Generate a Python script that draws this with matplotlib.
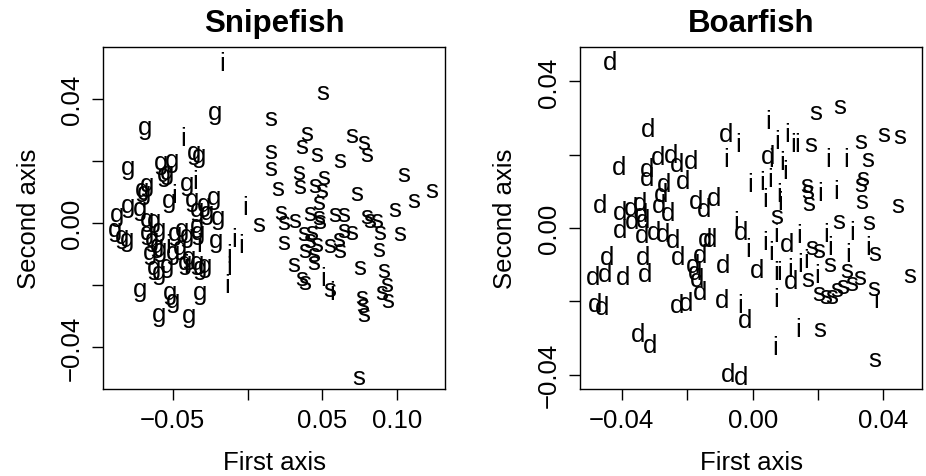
import matplotlib
matplotlib.use('Agg')
import matplotlib.pyplot as plt
from matplotlib.transforms import ScaledTranslation

plt.rcParams['font.family'] = ['Liberation Sans', 'DejaVu Sans']

# ---------------- data ----------------
# Snipefish panel
snipe_s_x = [0.0504, 0.0156, 0.0397, 0.0363, 0.0463, 0.0697, 0.0775, 0.0798, 0.0619, 0.0156,
             0.0156, 0.0341, 0.0352, 0.0201, 0.0452, 0.0508, 0.0497, 0.0475, 0.0731, 0.1043,
             0.1232, 0.1110, 0.0987, 0.0074, 0.0223, 0.0241, 0.0319, 0.0419, 0.0475, 0.0486,
             0.0586, 0.0642, 0.0798, 0.0820, 0.0865, 0.0882, 0.1020, 0.0241, 0.0374, 0.0430,
             0.0419, 0.0463, 0.0385, 0.0441, 0.0441, 0.0553, 0.0608, 0.0619, 0.0642, 0.0697,
             0.0876, 0.0307, 0.0363, 0.0385, 0.0553, 0.0753, 0.0909, 0.0931, 0.0898, 0.0936,
             0.0764, 0.0771, 0.0775, 0.0742]
snipe_s_y = [0.0421, 0.0337, 0.0290, 0.0247, 0.0222, 0.0281, 0.0260, 0.0222, 0.0201, 0.0230,
             0.0176, 0.0163, 0.0118, 0.0112, 0.0122, 0.0147, 0.0104, 0.0067, 0.0097, 0.0158,
             0.0104, 0.0072, 0.0045, -0.0003, 0.0034, 0.0002, 0.0008, 0.0032, 0.0018, 0.0004,
             0.0029, 0.0029, 0.0021, 0.0008, 0.0008, -0.0030, -0.0035, -0.0062, -0.0035, -0.0030,
             -0.0057, -0.0068, -0.0089, -0.0100, -0.0127, -0.0073, -0.0052, -0.0089, -0.0025, -0.0030,
             -0.0084, -0.0132, -0.0180, -0.0191, -0.0213, -0.0143, -0.0154, -0.0197, -0.0223, -0.0250,
             -0.0239, -0.0266, -0.0293, -0.0497]

snipe_i_x = [-0.0172, -0.0428, -0.0352, -0.0490, -0.0018, -0.0087, -0.0045, -0.0120, -0.0125,
             -0.0134, 0.0508, 0.0564, -0.0530, -0.0408, -0.0321]
snipe_i_y = [0.0515, 0.0273, 0.0133, 0.0088, 0.0050, -0.0054, -0.0071, -0.0105, -0.0143,
             -0.0200, -0.0178, -0.0223, -0.0073, -0.0137, -0.0068]

snipe_g_x = [-0.0214, -0.0686, -0.0361, -0.0321, -0.0798, -0.0577, -0.0506, -0.0539, -0.0561, -0.0673,
             -0.0706, -0.0691, -0.0406, -0.0528, -0.0227, -0.0798, -0.0873, -0.0717, -0.0372, -0.0339,
             -0.0294, -0.0194, -0.0673, -0.0628, -0.0595, -0.0885, -0.0840, -0.0807, -0.0673, -0.0639,
             -0.0606, -0.0484, -0.0439, -0.0406, -0.0339, -0.0328, -0.0272, -0.0209, -0.0651, -0.0584,
             -0.0495, -0.0450, -0.0394, -0.0417, -0.0339, -0.0316, -0.0283, -0.0628, -0.0595, -0.0539,
             -0.0717, -0.0517, -0.0495, -0.0316, -0.0595, -0.0394]
snipe_g_y = [0.0357, 0.0308, 0.0228, 0.0217, 0.0179, 0.0195, 0.0201, 0.0163, 0.0158, 0.0126,
             0.0107, 0.0099, 0.0128, 0.0072, 0.0081, 0.0056, 0.0029, 0.0047, 0.0077, 0.0045,
             0.0061, 0.0018, 0.0013, 0.0008, -0.0019, -0.0019, -0.0043, -0.0052, -0.0030, -0.0052,
             -0.0073, -0.0035, -0.0019, -0.0041, -0.0009, -0.0030, 0.0034, -0.0057, -0.0095, -0.0084,
             -0.0095, -0.0078, -0.0111, -0.0127, -0.0127, -0.0143, -0.0137, -0.0143, -0.0159, -0.0137,
             -0.0213, -0.0223, -0.0250, -0.0223, -0.0293, -0.0299]

# Boarfish panel
boar_d_x = [-0.0436, -0.0319, -0.0409, -0.0322, -0.0323, -0.0288, -0.0249, -0.0232, -0.0189, -0.0270,
            -0.0214, -0.0467, -0.0281, -0.0286, -0.0258, -0.0406, -0.0372, -0.0343, -0.0341, -0.0368,
            -0.0334, -0.0406, -0.0337, -0.0301, -0.0273, -0.0243, -0.0174, -0.0117, -0.0150, -0.0144,
            -0.0131, -0.0446, -0.0334, -0.0227, -0.0161, -0.0181, -0.0176, -0.0171, -0.0487, -0.0452,
            -0.0396, -0.0329, -0.0090, -0.0161, -0.0482, -0.0462, -0.0232, -0.0204, -0.0092, -0.0350,
            -0.0314, -0.0074, -0.0034, -0.0080, 0.0048, -0.0034, -0.0023, 0.0014, 0.0104, 0.0119]
boar_d_y = [0.0452, 0.0270, 0.0165, 0.0161, 0.0136, 0.0192, 0.0199, 0.0173, 0.0183, 0.0120,
            0.0128, 0.0063, 0.0092, 0.0061, 0.0040, 0.0043, 0.0055, 0.0068, 0.0037, 0.0019,
            0.0022, -0.0005, -0.0021, -0.0012, -0.0018, -0.0034, 0.0074, 0.0081, 0.0052, -0.0030,
            -0.0030, -0.0080, -0.0080, -0.0080, -0.0075, -0.0103, -0.0121, -0.0139, -0.0135, -0.0125,
            -0.0135, -0.0125, -0.0103, -0.0175, -0.0207, -0.0216, -0.0212, -0.0205, -0.0198, -0.0289,
            -0.0321, -0.0398, -0.0407, 0.0255, 0.0195, -0.0012, -0.0253, -0.0116, -0.0044, -0.0144]

boar_i_x = [0.0048, -0.0044, -0.0080, 0.0075, 0.0106, 0.0124, 0.0135, 0.0231, 0.0285, 0.0058,
            0.0089, 0.0099, -0.0008, 0.0028, 0.0055, 0.0038, 0.0082, 0.0084, 0.0206, 0.0255,
            -0.0049, -0.0013, 0.0038, 0.0058, 0.0073, 0.0143, 0.0226, 0.0236, 0.0303, 0.0293,
            0.0354, 0.0073, 0.0082, 0.0114, 0.0145, 0.0163, 0.0196, 0.0071, -0.0039, 0.0140,
            0.0068, 0.0379]
boar_i_y = [0.0292, 0.0228, 0.0188, 0.0237, 0.0255, 0.0228, 0.0228, 0.0187, 0.0187, 0.0187,
            0.0178, 0.0155, 0.0119, 0.0124, 0.0133, 0.0078, 0.0092, 0.0069, 0.0096, 0.0101,
            0.0015, -0.0057, -0.0039, -0.0066, -0.0016, -0.0021, -0.0016, -0.0053, -0.0012, -0.0071,
            -0.0053, -0.0121, -0.0121, -0.0112, -0.0098, -0.0089, -0.0130, -0.0194, -0.0212, -0.0275,
            -0.0325, -0.0198]

boar_s_x = [0.0194, 0.0265, 0.0177, 0.0330, 0.0402, 0.0451, 0.0351, 0.0338, 0.0330, 0.0165,
            0.0170, 0.0172, 0.0333, 0.0445, 0.0073, 0.0262, 0.0354, 0.0180, 0.0201, 0.0236,
            0.0287, 0.0328, 0.0374, 0.0481, 0.0369, 0.0170, 0.0201, 0.0224, 0.0242, 0.0257,
            0.0277, 0.0303, 0.0206, 0.0374]
boar_s_y = [0.0315, 0.0333, 0.0228, 0.0237, 0.0255, 0.0251, 0.0187, 0.0135, 0.0120, 0.0117,
            0.0099, 0.0068, 0.0074, 0.0061, 0.0033, 0.0017, 0.0015, -0.0053, -0.0062, -0.0098,
            -0.0116, -0.0135, -0.0068, -0.0130, -0.0165, -0.0139, -0.0177, -0.0186, -0.0185, -0.0168,
            -0.0159, -0.0150, -0.0275, -0.0357]

snipe_xticks = [-0.05, 0.0, 0.05, 0.10]
snipe_xticklabels = ['\u22120.05', '', '0.05', '0.10']
boar_xticks = [-0.04, -0.02, 0.0, 0.02, 0.04]
boar_xticklabels = ['\u22120.04', '', '0.00', '', '0.04']
yticks = [-0.04, -0.02, 0.0, 0.02, 0.04]
yticklabels = ['\u22120.04', '', '0.00', '', '0.04']

# ---------------- layout ----------------
W, H = 926, 477
fig = plt.figure(figsize=(W / 100, H / 100), dpi=100)
FS = 18.5          # base text size (points)
LFS = 18.5         # point-letter size
XH = 0.519 * LFS   # x-height in points


def px_axes(left, top, right, bottom):
    return fig.add_axes([left / W, 1 - bottom / H, (right - left) / W, (bottom - top) / H])


ax1 = px_axes(103.3, 48.3, 445.0, 390.0)
ax2 = px_axes(580.0, 48.3, 922.0, 390.0)

ax1.set_xlim(-0.0965, 0.1321)
ax1.set_ylim(-0.0535, 0.0566)
ax2.set_xlim(-0.0528, 0.0518)
ax2.set_ylim(-0.0439, 0.0493)


def letters(ax, xs, ys, ch):
    tr = ax.transData + ScaledTranslation(0, -XH / 2 / 72, fig.dpi_scale_trans)
    for x, y in zip(xs, ys):
        ax.text(x, y, ch, transform=tr, ha='center', va='baseline',
                fontsize=LFS, color='black', clip_on=False)


letters(ax1, snipe_g_x, snipe_g_y, 'g')
letters(ax1, snipe_i_x, snipe_i_y, 'i')
letters(ax1, snipe_s_x, snipe_s_y, 's')
letters(ax2, boar_d_x, boar_d_y, 'd')
letters(ax2, boar_i_x, boar_i_y, 'i')
letters(ax2, boar_s_x, boar_s_y, 's')

for ax, xt, xtl in ((ax1, snipe_xticks, snipe_xticklabels), (ax2, boar_xticks, boar_xticklabels)):
    ax.set_xticks(xt)
    ax.set_xticklabels(xtl)
    ax.set_yticks(yticks)
    ax.set_yticklabels(yticklabels, rotation=90, va='center')
    ax.tick_params(axis='both', direction='out', length=8.0, width=1.0,
                   labelsize=FS, colors='black')
    ax.tick_params(axis='x', pad=6.0)
    ax.tick_params(axis='y', pad=6.0)
    for sp in ax.spines.values():
        sp.set_linewidth(1.0)
        sp.set_color('black')

# titles and axis labels
for cx, title in ((274.2, 'Snipefish'), (751.0, 'Boarfish')):
    fig.text(cx / W, 1 - 32 / H, title, ha='center', va='baseline',
             fontsize=22.5, fontweight='bold')
    fig.text(cx / W, 1 - 470 / H, 'First axis', ha='center', va='baseline', fontsize=FS)

for lx in (35.5, 512.0):
    fig.text(lx / W, 1 - 219 / H, 'Second axis', rotation=90, rotation_mode='anchor',
             ha='center', va='baseline', fontsize=FS)

fig.savefig('out.png', dpi=100)
